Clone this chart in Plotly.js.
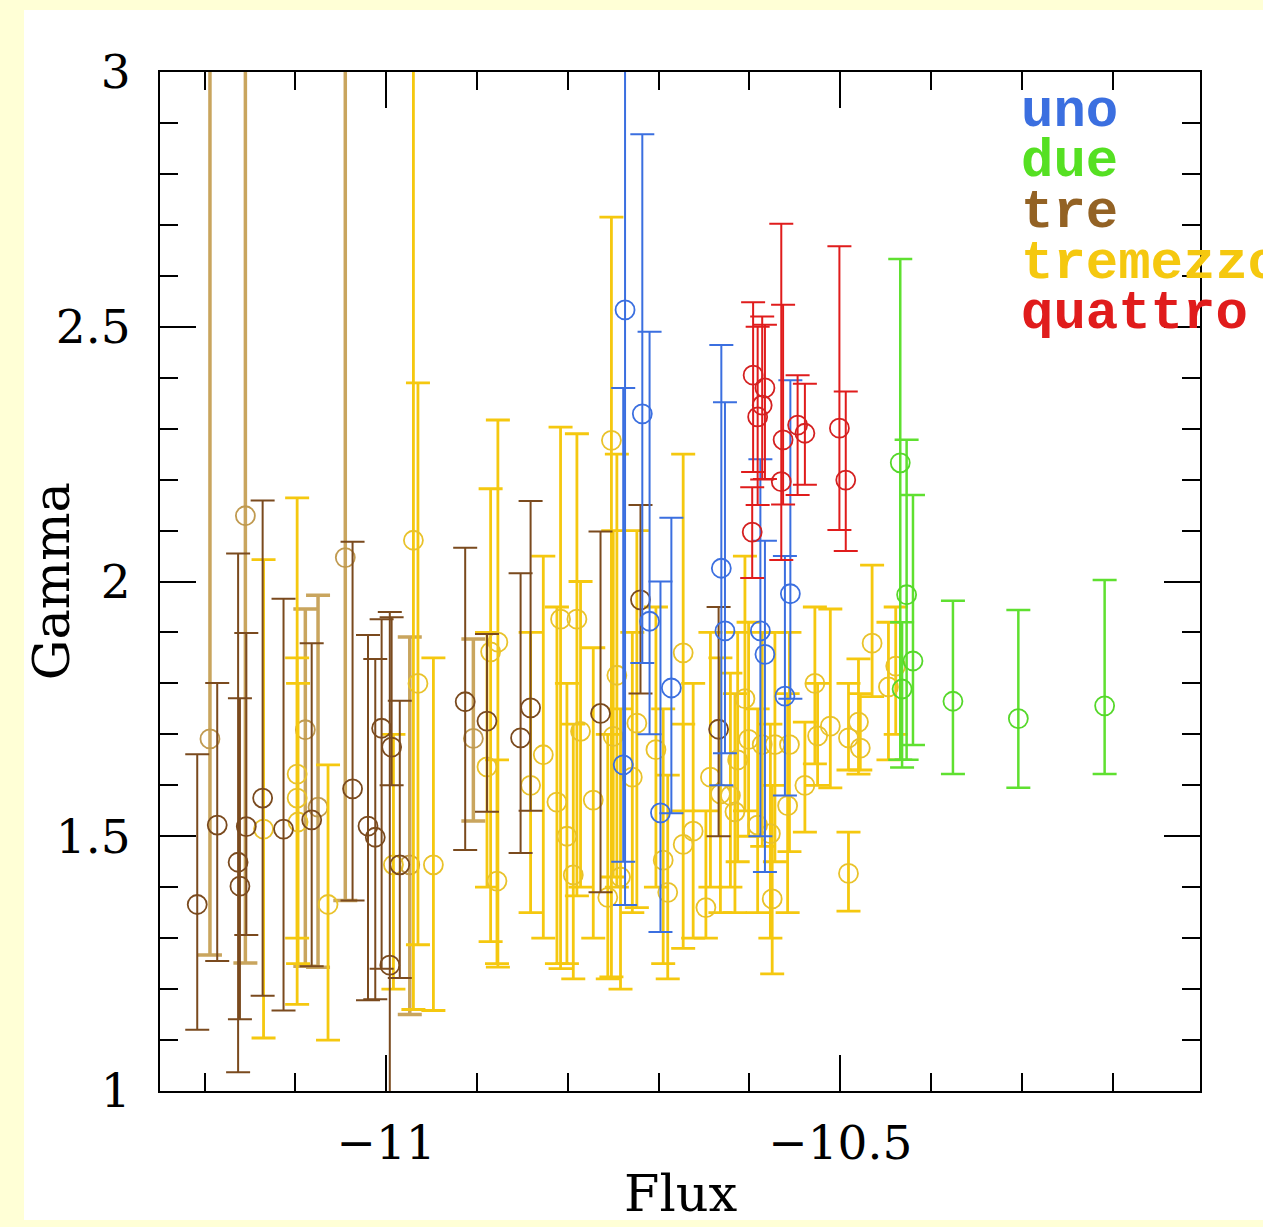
<!DOCTYPE html>
<html><head><meta charset="utf-8">
<script src="https://cdn.plot.ly/plotly-3.0.1.min.js"></script>
<style>
html,body{margin:0;padding:0;background:#ffffd6;width:1263px;height:1227px;overflow:hidden}
#panel{position:absolute;left:24px;top:10px;width:1239px;height:1210px;background:#fff}
#chart{position:absolute;left:0;top:0;width:1263px;height:1227px}
</style></head><body><div id="panel"></div><div id="chart"></div><script>
// ---- data (Flux, Gamma, upper bound, lower bound) ----
const unoX  = [-10.737,-10.739,-10.718,-10.710,-10.686,-10.698,-10.631,-10.627,-10.588,-10.583,-10.555,-10.561];
const unoY  = [2.533,1.640,2.329,1.922,1.791,1.546,2.026,1.903,1.903,1.857,1.976,1.775];
const unoHi = [3.500,2.380,2.878,2.490,2.125,2.000,2.464,2.352,2.240,2.080,2.395,2.050];
const unoLo = [1.365,1.450,1.840,1.700,1.545,1.312,1.600,1.663,1.500,1.430,1.770,1.580];

const dueX  = [-10.434,-10.427,-10.420,-10.432,-10.376,-10.304,-10.209];
const dueY  = [2.233,1.974,1.844,1.789,1.765,1.731,1.756];
const dueHi = [2.633,2.278,2.170,1.920,1.962,1.944,2.003];
const dueLo = [1.650,1.650,1.679,1.635,1.622,1.595,1.622];

const treX  = [-11.208,-11.186,-11.136,-11.113,-11.082,-11.037,-11.020,-11.012,-11.005,-10.994,-10.996,-10.985,
               -10.913,-10.889,-10.841,-10.852,-10.764,-10.720,-10.634,-11.163,-11.161,-11.154];
const treY  = [1.366,1.522,1.575,1.514,1.532,1.593,1.520,1.498,1.712,1.675,1.247,1.444,
               1.764,1.726,1.752,1.693,1.741,1.964,1.710,1.449,1.402,1.519];
const treHi = [1.661,1.801,2.159,1.966,1.879,2.078,1.895,1.848,1.926,1.930,1.940,1.766,
               2.066,1.897,2.158,2.016,2.098,2.150,1.950,2.055,1.771,1.899];
const treLo = [1.120,1.255,1.187,1.158,1.245,1.374,1.178,1.180,1.240,1.600,0.900,1.222,
               1.473,1.548,1.550,1.467,1.390,1.780,1.500,1.037,1.141,1.306];

const treBX  = [-11.194,-11.155,-11.045,-11.089,-11.075,-10.904,-10.974];
const treBY  = [1.691,2.129,2.047,1.709,1.557,1.692,1.444];
const treBHi = [3.500,3.500,3.500,1.946,1.973,1.887,1.891];
const treBLo = [1.267,1.251,1.374,1.245,1.243,1.530,1.150];

const tmzX  = [-11.135,-11.098,-11.098,-11.097,-11.064,-10.992,-10.970,-10.965,-10.948,-10.885,-10.877,-10.889,
               -10.878,-10.841,-10.827,-10.808,-10.790,-10.812,-10.801,-10.794,-10.786,-10.772,-10.752,-10.756,
               -10.750,-10.746,-10.742,-10.724,-10.729,-10.703,-10.695,-10.690,-10.673,-10.673,-10.662,-10.648,
               -10.643,-10.632,-10.621,-10.616,-10.613,-10.605,-10.601,-10.591,-10.586,-10.577,-10.575,-10.572,
               -10.558,-10.556,-10.539,-10.528,-10.525,-10.511,-10.491,-10.491,-10.480,-10.478,-10.465,-10.447,-10.439];
const tmzY  = [1.514,1.622,1.575,1.528,1.366,1.444,2.081,1.800,1.444,1.862,1.881,1.636,
               1.412,1.600,1.660,1.926,1.926,1.567,1.500,1.424,1.706,1.571,2.277,1.380,
               1.696,1.816,1.420,1.722,1.616,1.670,1.453,1.390,1.860,1.484,1.510,1.360,
               1.616,1.583,1.580,1.548,1.650,1.770,1.690,1.522,1.680,1.505,1.377,1.680,
               1.560,1.680,1.600,1.800,1.697,1.716,1.427,1.693,1.724,1.673,1.879,1.793,1.834];
const tmzHi = [2.043,2.164,1.850,1.800,1.640,1.700,3.500,2.390,1.850,2.182,2.317,1.900,
               1.650,1.900,2.050,2.303,2.290,1.950,1.800,1.720,2.000,1.870,2.715,1.700,
               2.100,2.250,1.750,2.100,1.900,1.950,1.750,1.620,2.250,1.720,1.800,1.550,
               1.900,1.850,1.820,1.780,1.900,2.050,1.920,1.750,1.900,1.720,1.600,1.900,
               1.780,1.900,1.724,1.950,1.800,1.946,1.508,1.800,1.848,1.780,2.032,1.920,1.950];
const tmzLo = [1.104,1.170,1.300,1.250,1.100,1.200,1.160,1.287,1.158,1.293,1.243,1.400,
               1.250,1.350,1.300,1.240,1.383,1.250,1.250,1.220,1.400,1.300,1.224,1.220,
               1.420,1.400,1.200,1.360,1.350,1.400,1.250,1.220,1.550,1.280,1.300,1.300,
               1.400,1.350,1.400,1.350,1.450,1.550,1.500,1.350,1.480,1.300,1.230,1.450,
               1.350,1.470,1.508,1.642,1.600,1.595,1.353,1.630,1.622,1.630,1.774,1.650,1.700];

const quaX  = [-10.597,-10.596,-10.591,-10.586,-10.583,-10.565,-10.563,-10.547,-10.539,-10.501,-10.494];
const quaY  = [2.097,2.405,2.323,2.346,2.380,2.196,2.278,2.307,2.291,2.301,2.199];
const quaHi = [2.185,2.548,2.500,2.520,2.504,2.702,2.543,2.405,2.388,2.658,2.373];
const quaLo = [2.007,2.215,2.150,2.200,2.201,2.042,2.151,2.170,2.190,2.101,2.060];

const legendNames  = ['uno','due','tre','tremezzo','quattro'];
const legendColors = ['#3b6fe0','#55e022','#936224','#f5c80f','#e01c1c'];

const xTickVals = [-11,-10.5];
const yTickVals = [1,1.5,2,2.5,3];

function mk(x,y,hi,lo,col,mcol,th,name){
  return {type:'scatter',mode:'markers',x:x,y:y,name:name,showlegend:false,
    marker:{symbol:'circle-open',size:19,color:mcol,line:{width:1.8,color:mcol}},
    error_y:{type:'data',symmetric:false,
      array:y.map((v,i)=>hi[i]-v), arrayminus:y.map((v,i)=>v-lo[i]),
      color:col,thickness:th,width:12}};
}
const traces = [
  mk(treBX,treBY,treBHi,treBLo,'#c9a55e','#c09a50',3.5,'tre (light)'),
  mk(tmzX,tmzY,tmzHi,tmzLo,'#f5c80f','#e9c22a',2.8,'tremezzo'),
  mk(treX,treY,treHi,treLo,'#7a4a1e','#7a4a1e',2,'tre'),
  mk(unoX,unoY,unoHi,unoLo,'#3b6fe0','#3b6fe0',2,'uno'),
  mk(quaX,quaY,quaHi,quaLo,'#e01c1c','#d42020',2,'quattro'),
  mk(dueX,dueY,dueHi,dueLo,'#5fe030','#55d82a',2.5,'due')
];

// plot area: x 160..1200, y 72..1091 in page pixels
const ann = legendNames.map((t,i)=>({xref:'paper',yref:'paper',x:0.826,y:0.962-0.0497*i,
  xanchor:'left',yanchor:'middle',text:t,showarrow:false,height:50,valign:'middle',
  font:{family:'Liberation Mono, Courier New, monospace',size:54,color:legendColors[i],weight:'bold'}}));
ann.push({xref:'paper',yref:'paper',x:-0.104,y:0.5,text:'Gamma',textangle:-90,showarrow:false,
  xanchor:'center',yanchor:'middle',font:{family:'DejaVu Serif',size:51,color:'#000'}});
ann.push({xref:'paper',yref:'paper',x:0.501,y:-0.1315,text:'Flux',showarrow:false,
  xanchor:'center',yanchor:'bottom',font:{family:'DejaVu Serif',size:51,color:'#000'}});

const axBase = {showgrid:false,zeroline:false,showline:true,linecolor:'#000',linewidth:2,
  mirror:'allticks',ticks:'inside',tickcolor:'#000',tickwidth:2,ticklen:36,
  tickfont:{family:'DejaVu Serif',size:47,color:'#000'}};

const layout = {
  width:1263,height:1227,paper_bgcolor:'rgba(0,0,0,0)',plot_bgcolor:'#fff',
  margin:{l:160,r:63,t:72,b:136},showlegend:false,
  xaxis:Object.assign({},axBase,{range:[-11.249,-10.104],tickmode:'array',tickvals:xTickVals,
    ticktext:xTickVals.map(v=>'\u2212'+Math.abs(v)),ticklabelstandoff:10,
    minor:{dtick:0.1,tick0:0,ticks:'inside',ticklen:18,tickwidth:2,tickcolor:'#000',showgrid:false}}),
  yaxis:Object.assign({},axBase,{range:[1,3],tickmode:'array',tickvals:yTickVals,
    ticktext:yTickVals.map(v=>String(v)),ticklabelstandoff:18,
    minor:{dtick:0.1,tick0:0,ticks:'inside',ticklen:18,tickwidth:2,tickcolor:'#000',showgrid:false}}),
  annotations:ann
};
Plotly.newPlot('chart',traces,layout,{staticPlot:true});
</script></body></html>
